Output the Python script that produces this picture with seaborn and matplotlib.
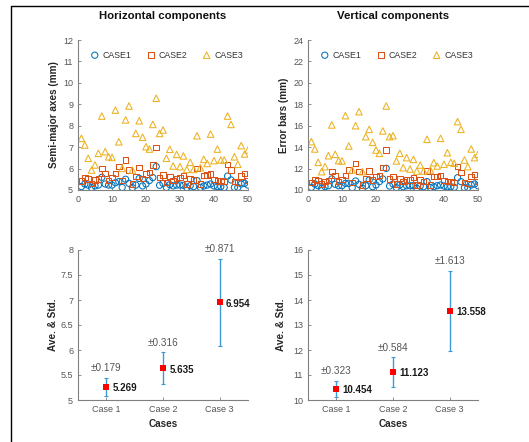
import numpy as np
import pandas as pd
import matplotlib
matplotlib.use("Agg")
import matplotlib.pyplot as plt
import seaborn as sns
from matplotlib.lines import Line2D

# ---------------- data ----------------
idx = list(range(1, 51))

h_case1 = [5.16, 5.28, 5.23, 5.11, 5.19, 5.23, 5.59, 5.28, 5.23, 5.23,
           5.34, 5.39, 5.12, 5.50, 5.31, 5.11, 5.23, 5.54, 5.19, 5.28,
           5.44, 5.58, 6.09, 5.22, 5.31, 5.12, 5.25, 5.19, 5.23, 5.23,
           5.22, 5.11, 5.20, 5.16, 5.44, 5.12, 5.19, 5.23, 5.28, 5.19,
           5.16, 5.16, 5.12, 5.65, 5.47, 5.12, 5.12, 5.28, 5.31, 5.23]
h_case2 = [5.42, 5.58, 5.51, 5.31, 5.47, 5.51, 6.01, 5.78, 5.44, 5.58,
           5.78, 6.09, 5.44, 6.40, 5.93, 5.28, 5.62, 6.06, 5.54, 5.75,
           5.81, 6.17, 6.99, 5.58, 5.70, 5.34, 5.62, 5.44, 5.54, 5.58,
           5.67, 5.28, 5.54, 5.47, 6.01, 5.28, 5.67, 5.70, 5.75, 5.50,
           5.42, 5.44, 5.39, 6.20, 5.93, 5.39, 5.36, 5.65, 5.78, 5.44]
h_case3 = [7.41, 7.10, 6.48, 5.93, 6.17, 6.71, 8.45, 6.79, 6.55, 6.52,
           8.73, 7.25, 6.01, 8.27, 8.92, 5.93, 7.64, 8.23, 7.46, 7.02,
           6.91, 8.06, 9.28, 7.64, 7.80, 6.48, 6.90, 6.12, 6.66, 6.09,
           6.59, 5.96, 6.29, 5.96, 7.53, 6.04, 6.43, 6.24, 7.61, 6.37,
           6.91, 6.40, 6.40, 8.45, 8.06, 6.55, 6.20, 7.07, 6.68, 6.87]

v_case1 = [10.25, 10.56, 10.40, 10.16, 10.31, 10.40, 11.03, 10.53, 10.40, 10.40,
           10.62, 10.62, 10.22, 10.84, 10.53, 10.16, 10.40, 10.93, 10.31, 10.47,
           10.78, 11.03, 12.02, 10.37, 10.56, 10.22, 10.47, 10.31, 10.40, 10.40,
           10.40, 10.16, 10.37, 10.31, 10.78, 10.22, 10.31, 10.40, 10.47, 10.37,
           10.31, 10.31, 10.25, 11.15, 10.78, 10.22, 10.22, 10.47, 10.56, 10.40]
v_case2 = [10.72, 11.00, 10.87, 10.56, 10.78, 10.87, 11.71, 11.34, 10.78, 11.00,
           11.34, 11.87, 10.72, 12.49, 11.71, 10.47, 11.09, 11.77, 10.93, 11.24,
           11.34, 12.08, 13.73, 11.03, 11.24, 10.56, 11.09, 10.78, 10.93, 10.93,
           11.15, 10.47, 10.93, 10.78, 11.77, 10.47, 11.24, 11.24, 11.34, 10.87,
           10.78, 10.78, 10.68, 12.18, 11.65, 10.68, 10.62, 11.24, 11.46, 10.78]
v_case3 = [14.51, 13.83, 12.58, 11.71, 12.18, 13.20, 16.07, 13.33, 12.74, 12.71,
           16.94, 14.11, 11.87, 16.00, 17.31, 11.71, 14.98, 15.66, 14.45, 13.73,
           13.42, 15.51, 17.84, 14.98, 15.07, 12.71, 13.42, 12.08, 13.02, 11.96,
           12.86, 11.77, 12.33, 11.77, 14.73, 11.87, 12.55, 12.24, 14.82, 12.40,
           13.48, 12.58, 12.49, 16.38, 15.66, 12.80, 12.18, 13.83, 13.02, 13.33]

series_names = ["CASE1", "CASE2", "CASE3"]
case_labels = ["Case 1", "Case 2", "Case 3"]
h_mean = [5.269, 5.635, 6.954]
h_std = [0.179, 0.316, 0.871]
v_mean = [10.454, 11.123, 13.558]
v_std = [0.323, 0.584, 1.613]

# ---------------- style ----------------
sns.set_theme(style="white")
plt.rcParams["font.family"] = ["Liberation Sans", "DejaVu Sans"]
plt.rcParams["axes.edgecolor"] = "#808080"
plt.rcParams["xtick.color"] = "#808080"
plt.rcParams["ytick.color"] = "#808080"
plt.rcParams["xtick.labelcolor"] = "#555555"
plt.rcParams["ytick.labelcolor"] = "#555555"

colors = ["#0072BD", "#D95319", "#EDB120"]
markers = ["o", "s", "^"]
sizes = [20, 16, 22]
tick_fs = 6.5
label_fs = 7.2
title_fs = 8.2

fig = plt.figure(figsize=(5.29, 4.42), dpi=100)
W, H = 529, 442

def add_axes_px(x0, y0, x1, y1):
    return fig.add_axes([x0 / W, 1 - y1 / H, (x1 - x0) / W, (y1 - y0) / H])

ax_h = add_axes_px(78, 40, 248, 190)
ax_v = add_axes_px(308, 40, 478, 190)
ax_hb = add_axes_px(78, 250, 248, 400)
ax_vb = add_axes_px(308, 250, 478, 400)

def style_axes(ax):
    sns.despine(ax=ax)
    for s in ["left", "bottom"]:
        ax.spines[s].set_linewidth(0.8)
    ax.tick_params(direction="in", length=2.5, width=0.6, labelsize=tick_fs,
                   left=True, bottom=True, pad=3.5)

def scatter_panel(ax, data, ylim, yticks, title, ylabel):
    for name, vals, c, m, sz in zip(series_names, data, colors, markers, sizes):
        df = pd.DataFrame({"idx": idx, "val": vals})
        sns.scatterplot(data=df, x="idx", y="val", ax=ax, marker=m, s=sz,
                        linewidth=0.75, label=name)
        coll = ax.collections[-1]
        coll.set_facecolor("none")
        coll.set_edgecolor(c)
    ax.set_xlim(0, 50)
    ax.set_ylim(*ylim)
    ax.set_xticks(range(0, 51, 10))
    ax.set_yticks(yticks)
    ax.set_xlabel("")
    ax.set_ylabel(ylabel, fontsize=label_fs, fontweight="bold", color="#262626", labelpad=3)
    ax.set_title(title, fontsize=title_fs, fontweight="bold", color="#111111", pad=15)
    style_axes(ax)
    leg = ax.legend(ncol=3, frameon=False, loc="center", bbox_to_anchor=(0.52, 0.9),
                    fontsize=6.3, handletextpad=0.3, columnspacing=1.6,
                    handlelength=1.2, markerscale=1.0)
    for t in leg.get_texts():
        t.set_color("#333333")

scatter_panel(ax_h, [h_case1, h_case2, h_case3], (5, 12), range(5, 13),
              "Horizontal components", "Semi-major axes (mm)")
scatter_panel(ax_v, [v_case1, v_case2, v_case3], (10, 24), range(10, 25, 2),
              "Vertical components", "Error bars (mm)")

def summary_panel(ax, means, stds, ylim, yticks, ytick_labels):
    df = pd.DataFrame({"case": case_labels, "mean": means, "std": stds})
    pos = np.arange(len(case_labels))
    ax.errorbar(pos, df["mean"], yerr=df["std"], fmt="none", ecolor="#3d9ad6",
                elinewidth=1.0, capsize=1.5, capthick=0.8, zorder=2)
    sns.scatterplot(data=df, x="case", y="mean", ax=ax, marker="s", s=22,
                    color="#ff0000", edgecolor="#ff0000", linewidth=0, zorder=3)
    for p, m_, s_ in zip(pos, means, stds):
        ax.annotate(f"\u00b1{s_:.3f}", (p, m_ + s_), xytext=(0, 7),
                    textcoords="offset points", ha="center", va="center",
                    fontsize=7.2, color="#555555")
        ax.annotate(f"{m_:.3f}", (p, m_), xytext=(4.5, -1),
                    textcoords="offset points", ha="left", va="center",
                    fontsize=7, fontweight="bold", color="#1a1a1a")
    ax.set_xlim(-0.5, 2.5)
    ax.set_ylim(*ylim)
    ax.set_yticks(yticks)
    ax.set_yticklabels(ytick_labels)
    ax.set_xticks(pos)
    ax.set_xticklabels(case_labels)
    ax.set_xlabel("Cases", fontsize=label_fs, fontweight="bold", color="#262626", labelpad=4)
    style_axes(ax)

summary_panel(ax_hb, h_mean, h_std, (5, 8), np.arange(5, 8.01, 0.5),
              ["5", "5.5", "6", "6.5", "7", "7.5", "8"])
ax_hb.set_ylabel("Ave. & Std.", fontsize=label_fs, fontweight="bold", color="#262626", labelpad=2)
summary_panel(ax_vb, v_mean, v_std, (10, 16), range(10, 17),
              [str(v) for v in range(10, 17)])
ax_vb.set_ylabel("Ave. & Std.", fontsize=label_fs, fontweight="bold", color="#262626", labelpad=5)

# outer frame (left and top edges)
fig.add_artist(Line2D([11 / W, 11 / W], [0, 1 - 6 / H], transform=fig.transFigure,
                      color="black", lw=1.0))
fig.add_artist(Line2D([11 / W, 1], [1 - 6 / H, 1 - 6 / H], transform=fig.transFigure,
                      color="black", lw=1.0))

fig.savefig("out.png", dpi=100)
